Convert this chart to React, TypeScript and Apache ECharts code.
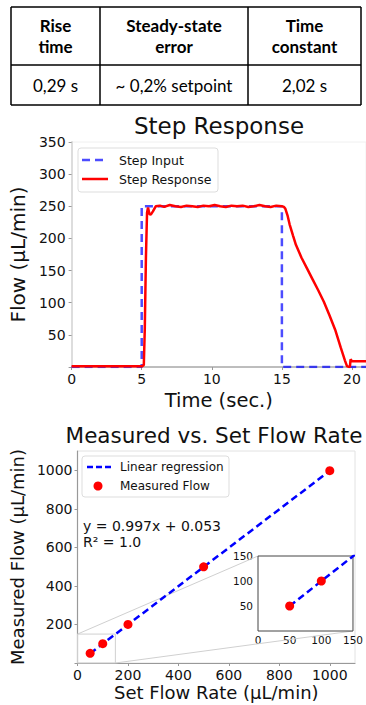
import React, { useEffect, useRef } from 'react';
import * as echarts from 'echarts';

// ---- table ----
const tableHeaders = [['Rise', 'time'], ['Steady-state', 'error'], ['Time', 'constant']];
const tableValues = ['0,29 s', '~ 0,2% setpoint', '2,02 s'];

// ---- step response ----
const inputTime = [0, 5, 5, 15, 15, 21];
const inputFlow = [0, 0, 250, 250, 0, 0];

const responseTime = [0, 1, 2, 3, 4, 5, 5.15, 5.22, 5.3, 5.38, 5.45, 5.55, 5.65, 5.8, 6.0, 6.3, 6.6, 7.0, 7.4, 7.8, 8.2, 8.6, 9.0, 9.4, 9.8, 10.2, 10.6, 11.0, 11.4, 11.8, 12.2, 12.6, 13.0, 13.4, 13.8, 14.2, 14.6, 15.0, 15.15, 15.25, 15.4, 15.55, 15.8, 16.0, 16.4, 16.8, 17.2, 17.6, 18.0, 18.4, 18.8, 19.2, 19.5, 19.65, 19.85, 19.9, 20.0, 20.1, 21];
const responseFlow = [1, 1, 1, 1, 1, 1, 3, 60, 170, 240, 248, 238, 237, 242, 250, 251, 249, 252, 250, 249, 251, 250, 249, 251, 250, 252, 250, 249, 251, 250, 251, 249, 250, 252, 250, 249, 251, 250, 249, 246, 236, 222, 204, 190, 170, 153, 136, 119, 101, 80, 58, 30, 10, 1, 0, 12, 9, 9, 9];

// ---- measured vs set ----
const setRate = [50, 100, 200, 500, 1000];
const measuredFlow = [50, 100, 200, 499, 998];
const regressionX = [50, 1000];
const regressionY = [49.9, 997.1];
const fitText = ['y = 0.997x + 0.053', 'R² = 1.0'];

const FONT = 'DejaVu Sans';
const TXT = '#111';

const zip = (a: number[], b: number[]) => a.map((v, i) => [v, b[i]]);

export default function App() {
  const ref = useRef<HTMLDivElement>(null);
  useEffect(() => {
    if (!ref.current) return;
    const chart = echarts.init(ref.current, undefined, { renderer: 'svg' });
    const hideZero = (v: number) => (v === 0 ? '' : String(v));
    const plain = (v: number) => String(v);
    const baseLabel = { fontFamily: FONT, color: TXT };
    chart.setOption({
      animation: false,
      backgroundColor: '#fff',
      title: [
        { text: 'Step Response', left: 219, top: 114, textAlign: 'center', padding: 0,
          textStyle: { fontFamily: FONT, fontSize: 23, fontWeight: 'normal', color: TXT } },
        { text: 'Measured vs. Set Flow Rate', left: 214, top: 424, textAlign: 'center', padding: 0,
          textStyle: { fontFamily: FONT, fontSize: 21.5, fontWeight: 'normal', color: TXT } },
      ],
      grid: [
        { left: 71, top: 142, width: 296, height: 225, show: true, borderColor: '#f0f0f0', borderWidth: 1, backgroundColor: 'transparent' },
        { left: 76, top: 451, width: 279, height: 212, show: true, borderColor: '#e2e2e2', borderWidth: 1, backgroundColor: 'transparent' },
        { left: 258, top: 556, width: 97, height: 75, show: true, borderColor: '#444', borderWidth: 1, backgroundColor: '#fff', z: 5 },
      ],
      xAxis: [
        { type: 'value', gridIndex: 0, min: 0, max: 21, interval: 5, splitLine: { show: false },
          axisLine: { lineStyle: { color: '#aaa', width: 1.5 } },
          axisTick: { length: 3, lineStyle: { color: '#999' } },
          axisLabel: { ...baseLabel, fontSize: 14, margin: 5, showMaxLabel: false, formatter: plain },
          name: 'Time (sec.)', nameLocation: 'middle', nameGap: 23,
          nameTextStyle: { fontFamily: FONT, fontSize: 19.5, color: TXT } },
        { type: 'value', gridIndex: 1, min: 0, max: 1100, interval: 200, splitLine: { show: false },
          axisLine: { lineStyle: { color: '#999', width: 1.2 } },
          axisTick: { length: 3, lineStyle: { color: '#999' } },
          axisLabel: { ...baseLabel, fontSize: 14, margin: 5, showMaxLabel: false, formatter: plain },
          name: 'Set Flow Rate (μL/min)', nameLocation: 'middle', nameGap: 20,
          nameTextStyle: { fontFamily: FONT, fontSize: 18, color: TXT } },
        { type: 'value', gridIndex: 2, min: 0, max: 150, interval: 50, splitLine: { show: false },
          axisLine: { show: false }, axisTick: { show: false },
          axisLabel: { ...baseLabel, fontSize: 10.5, margin: 3, formatter: plain } },
      ],
      yAxis: [
        { type: 'value', gridIndex: 0, min: 0, max: 350, interval: 50, splitLine: { show: false },
          axisLine: { show: true, lineStyle: { color: '#ddd', width: 2 } },
          axisTick: { show: true, length: 3, lineStyle: { color: '#999' } },
          axisLabel: { ...baseLabel, fontSize: 14, margin: 6, formatter: hideZero },
          name: 'Flow (μL/min)', nameLocation: 'middle', nameGap: 32,
          nameTextStyle: { fontFamily: FONT, fontSize: 20, color: TXT } },
        { type: 'value', gridIndex: 1, min: 0, max: 1100, interval: 200, splitLine: { show: false },
          axisLine: { show: true, lineStyle: { color: '#999', width: 1.2 } },
          axisTick: { show: true, length: 3, lineStyle: { color: '#999' } },
          axisLabel: { ...baseLabel, fontSize: 14, margin: 5, formatter: hideZero, showMaxLabel: false },
          name: 'Measured Flow (μL/min)', nameLocation: 'middle', nameGap: 41,
          nameTextStyle: { fontFamily: FONT, fontSize: 18, color: TXT } },
        { type: 'value', gridIndex: 2, min: 0, max: 150, interval: 50, splitLine: { show: false },
          axisLine: { show: false }, axisTick: { show: false },
          axisLabel: { ...baseLabel, fontSize: 10.5, margin: 5, formatter: hideZero } },
      ],
      series: [
        { name: 'Step Input', type: 'line', xAxisIndex: 0, yAxisIndex: 0, data: zip(inputTime, inputFlow),
          symbol: 'none', lineStyle: { color: 'rgba(0,0,255,0.7)', width: 2.5, type: [8, 5] }, z: 2 },
        { name: 'Step Response', type: 'line', xAxisIndex: 0, yAxisIndex: 0, data: zip(responseTime, responseFlow),
          symbol: 'none', lineStyle: { color: '#ff0000', width: 2.5 }, z: 3 },
        { name: 'Linear regression', type: 'line', xAxisIndex: 1, yAxisIndex: 1, data: zip(regressionX, regressionY),
          symbol: 'none', lineStyle: { color: '#0000ff', width: 2.5, type: [7, 4] }, z: 3 },
        { name: 'Measured Flow', type: 'scatter', xAxisIndex: 1, yAxisIndex: 1, data: zip(setRate, measuredFlow),
          symbolSize: 9, itemStyle: { color: '#ff0000', opacity: 1 }, z: 4 },
        { name: 'Linear regression (inset)', type: 'line', xAxisIndex: 2, yAxisIndex: 2, data: zip(regressionX, regressionY),
          symbol: 'none', clip: true, lineStyle: { color: '#0000ff', width: 2.5, type: [7, 4] }, z: 6 },
        { name: 'Measured Flow (inset)', type: 'scatter', xAxisIndex: 2, yAxisIndex: 2, data: zip(setRate, measuredFlow),
          clip: true, symbolSize: 9, itemStyle: { color: '#ff0000', opacity: 1 }, z: 7 },
      ],
    });

    const px = (g: number, v: number[]) => chart.convertToPixel({ gridIndex: g } as any, v) as number[];
    const m0 = px(1, [0, 150]);
    const m1 = px(1, [150, 0]);
    const i0 = px(2, [0, 150]);
    const i1 = px(2, [150, 0]);

    const colX = [11, 100, 248, 361];
    const tTop = 7, tMid = 65, tBot = 105;
    const tableFont = 'Lato';
    const graphic: any[] = [];
    // table lines
    graphic.push({ type: 'line', shape: { x1: colX[0], y1: tTop, x2: colX[3], y2: tTop }, style: { stroke: '#000', lineWidth: 1.5 } });
    graphic.push({ type: 'line', shape: { x1: colX[0], y1: tMid, x2: colX[3], y2: tMid }, style: { stroke: '#000', lineWidth: 1.5 } });
    graphic.push({ type: 'line', shape: { x1: colX[0], y1: tBot, x2: colX[3], y2: tBot }, style: { stroke: '#000', lineWidth: 1.5 } });
    colX.forEach((x) => graphic.push({ type: 'line', shape: { x1: x, y1: tTop, x2: x, y2: tBot }, style: { stroke: '#000', lineWidth: 1.5 } }));
    tableHeaders.forEach((lines, i) => {
      const cx = (colX[i] + colX[i + 1]) / 2;
      lines.forEach((t, j) => graphic.push({ type: 'text', x: cx, y: 25 + j * 21,
        style: { text: t, fontFamily: tableFont, fontSize: 17, fontWeight: 'bold', fill: '#000', align: 'center', verticalAlign: 'middle' } }));
      graphic.push({ type: 'text', x: cx, y: 85,
        style: { text: tableValues[i], fontFamily: tableFont, fontSize: 17, fill: '#000', align: 'center', verticalAlign: 'middle' } });
    });
    // step legend
    graphic.push({ type: 'rect', shape: { x: 78, y: 148, width: 140, height: 44, r: 3 }, style: { fill: 'rgba(255,255,255,0.85)', stroke: '#ddd', lineWidth: 1 }, z: 10 });
    graphic.push({ type: 'line', shape: { x1: 82, y1: 160, x2: 108, y2: 160 }, style: { stroke: 'rgba(0,0,255,0.7)', lineWidth: 2.5, lineDash: [8, 5] }, z: 11 });
    graphic.push({ type: 'line', shape: { x1: 82, y1: 179, x2: 108, y2: 179 }, style: { stroke: '#ff0000', lineWidth: 2.5 }, z: 11 });
    graphic.push({ type: 'text', x: 119, y: 160, style: { text: 'Step Input', fontFamily: FONT, fontSize: 12.5, fill: TXT, verticalAlign: 'middle' }, z: 11 });
    graphic.push({ type: 'text', x: 119, y: 179, style: { text: 'Step Response', fontFamily: FONT, fontSize: 12.5, fill: TXT, verticalAlign: 'middle' }, z: 11 });
    // bottom legend
    graphic.push({ type: 'rect', shape: { x: 82, y: 456, width: 147, height: 41, r: 3 }, style: { fill: 'rgba(255,255,255,0.85)', stroke: '#ddd', lineWidth: 1 }, z: 10 });
    graphic.push({ type: 'line', shape: { x1: 87, y1: 467, x2: 111, y2: 467 }, style: { stroke: '#0000ff', lineWidth: 2.5, lineDash: [6, 3] }, z: 11 });
    graphic.push({ type: 'circle', shape: { cx: 98, cy: 486, r: 4.5 }, style: { fill: '#ff0000' }, z: 11 });
    graphic.push({ type: 'text', x: 120, y: 467, style: { text: 'Linear regression', fontFamily: FONT, fontSize: 12, fill: TXT, verticalAlign: 'middle' }, z: 11 });
    graphic.push({ type: 'text', x: 120, y: 486, style: { text: 'Measured Flow', fontFamily: FONT, fontSize: 12, fill: TXT, verticalAlign: 'middle' }, z: 11 });
    // fit text
    fitText.forEach((t, i) => graphic.push({ type: 'text', x: 83, y: 526 + i * 16,
      style: { text: t, fontFamily: FONT, fontSize: 14, fill: TXT, verticalAlign: 'middle' }, z: 11 }));
    // zoom indicator
    graphic.push({ type: 'rect', shape: { x: m0[0], y: m0[1], width: m1[0] - m0[0], height: m1[1] - m0[1] }, style: { fill: 'none', stroke: '#d0d0d0', lineWidth: 1 }, z: 1 });
    graphic.push({ type: 'line', shape: { x1: m0[0], y1: m0[1], x2: i0[0], y2: i0[1] }, style: { stroke: '#d0d0d0', lineWidth: 1 }, z: 1 });
    graphic.push({ type: 'line', shape: { x1: m1[0], y1: m1[1], x2: i1[0], y2: i1[1] }, style: { stroke: '#d0d0d0', lineWidth: 1 }, z: 1 });

    chart.setOption({ graphic });
    return () => chart.dispose();
  }, []);
  return <div ref={ref} style={{ position: 'absolute', left: 0, top: 0, width: 366, height: 705 }} />;
}
